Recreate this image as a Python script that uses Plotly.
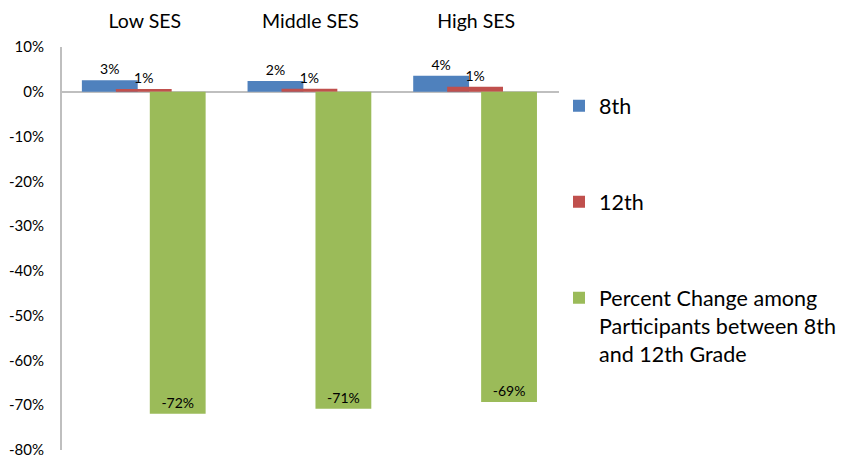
import plotly.graph_objects as go

categories = ["Low SES", "Middle SES", "High SES"]
grade8 = [2.6, 2.4, 3.6]
grade12 = [0.6, 0.7, 1.1]
pct_change = [-71.9, -70.8, -69.3]
series_names = ["8th", "12th", "Percent Change among<br>Participants between 8th<br>and 12th Grade"]
y_ticks = [10, 0, -10, -20, -30, -40, -50, -60, -70, -80]

colors = ["#4F81BD", "#C0504D", "#9BBB59"]
offsets = [-0.38, -0.175, 0.03]
FONT = "Lato, 'Open Sans', sans-serif"

x = list(range(len(categories)))
fig = go.Figure()
for i, (name, vals) in enumerate(zip(series_names, [grade8, grade12, pct_change])):
    is_neg = i == 2
    fig.add_trace(go.Bar(
        x=x, y=vals, name=name,
        marker=dict(color=colors[i], line=dict(width=0)),
        offset=offsets[i], width=0.337,
        text=[f"{int(round(v + (0.0001 if v > 0 else -0.0001)))}%" for v in vals],
        textposition="inside" if is_neg else "outside",
        insidetextanchor="end",
        textangle=0,
        textfont=dict(size=14, color="black", family=FONT),
        legendgroup=f"g{i}",
        cliponaxis=False,
        hoverinfo="skip",
    ))

fig.update_layout(
    width=839, height=455,
    barmode="overlay",
    plot_bgcolor="white", paper_bgcolor="white",
    margin=dict(l=54, r=288, t=39, b=13, autoexpand=False),
    font=dict(family=FONT, color="black"),
    showlegend=True,
    legend=dict(
        x=1.0, y=0.905, xanchor="left", yanchor="top",
        font=dict(size=21.5, family=FONT),
        traceorder="grouped", tracegroupgap=65,
        valign="top", itemwidth=30,
        bgcolor="rgba(0,0,0,0)",
    ),
    xaxis=dict(
        side="top", range=[-0.5, 2.5],
        tickvals=x, ticktext=categories,
        tickfont=dict(size=19.5, family=FONT),
        showline=False, showgrid=False, zeroline=False, ticks="",
        ticklabelstandoff=14, automargin=False,
    ),
    yaxis=dict(
        range=[-80, 10], tickvals=y_ticks,
        ticktext=[f"{v}%" for v in y_ticks],
        tickfont=dict(size=15, family=FONT),
        showgrid=False, showline=True, linecolor="#BFBFBF", linewidth=2,
        zeroline=True, zerolinecolor="#BFBFBF", zerolinewidth=1.5,
        ticks="", ticklabelstandoff=13, automargin=False,
    ),
)

fig.write_html("out.html")
